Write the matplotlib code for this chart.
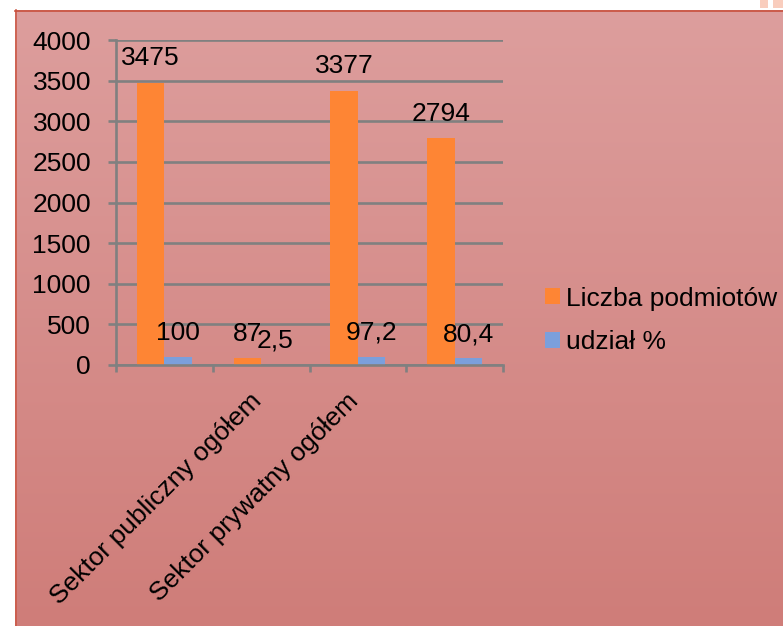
import numpy as np
import matplotlib
matplotlib.use("Agg")
import matplotlib.pyplot as plt
from matplotlib.patches import Rectangle
from matplotlib.transforms import ScaledTranslation

categories = ["", "Sektor publiczny ogółem", "Sektor prywatny ogółem", ""]
liczba = [3475, 87, 3377, 2794]
udzial = [100, 2.5, 97.2, 80.4]
liczba_labels = ["3475", "87", "3377", "2794"]
udzial_labels = ["100", "2,5", "97,2", "80,4"]
series_names = ["Liczba podmiotów", "udział %"]
yticks = [0, 500, 1000, 1500, 2000, 2500, 3000, 3500, 4000]

plt.rcParams['font.family'] = ['Liberation Sans', 'DejaVu Sans']
FS = 19
W, H = 783, 626
fig = plt.figure(figsize=(W / 100, H / 100), dpi=100)
fig.patch.set_facecolor('white')

# gradient background
bg = fig.add_axes([15 / W, 0, 1 - 15 / W, 1 - 10 / H])
bg.set_axis_off()
top = np.array([221, 158, 157]) / 255
bot = np.array([207, 125, 121]) / 255
t = np.linspace(0, 1, 256)[:, None]
grad = top[None, :] * (1 - t) + bot[None, :] * t
bg.imshow(grad[:, None, :], aspect='auto', extent=[0, 1, 0, 1])
bg.set_xlim(0, 1)
bg.set_ylim(0, 1)
# border lines
fig.add_artist(plt.Line2D([15.5 / W, 15.5 / W], [0, 1 - 10 / H], color='#cc5a48', lw=1.2))
fig.add_artist(plt.Line2D([15 / W, 1], [1 - 10.5 / H, 1 - 10.5 / H], color='#c8503c', lw=1.2))
fig.add_artist(Rectangle((760 / W, 1 - 8 / H), 8 / W, 8 / H, transform=fig.transFigure, color='#f9cdbd', lw=0))
fig.add_artist(Rectangle((773 / W, 1 - 8 / H), 10 / W, 8 / H, transform=fig.transFigure, color='#f9cdbd', lw=0))

ax = fig.add_axes([116 / W, 1 - 365 / H, (503 - 116) / W, (365 - 40) / H])
ax.set_facecolor('none')
x = np.arange(len(categories))
bw = 0.284
ob = ax.bar(x - bw / 2, liczba, bw, color='#fe8534', zorder=3, label=series_names[0])
bb = ax.bar(x + bw / 2, udzial, bw, color='#7b9fdc', zorder=3, label=series_names[1])

for xi, v, s in zip(x - bw / 2, liczba, liczba_labels):
    ax.annotate(s, (xi, v), xytext=(0, 12.5), textcoords='offset points',
                ha='center', va='baseline', fontsize=FS, color='black', zorder=5)
for xi, v, s in zip(x + bw / 2, udzial, udzial_labels):
    ax.annotate(s, (xi, v), xytext=(0, 12.5), textcoords='offset points',
                ha='center', va='baseline', fontsize=FS, color='black', zorder=5)

ax.set_xlim(-0.5, len(categories) - 0.5)
ax.set_ylim(0, 4000)
ax.set_yticks(yticks)
ax.set_yticklabels([str(v) for v in yticks], fontsize=FS)
ax.grid(axis='y', color='#808080', lw=1.9, zorder=1)
ax.set_axisbelow(True)

gray = '#808080'
for s in ['top', 'right']:
    ax.spines[s].set_visible(False)
for s in ['left', 'bottom']:
    ax.spines[s].set_color(gray)
    ax.spines[s].set_linewidth(1.9)
    ax.spines[s].set_zorder(4)
ax.tick_params(axis='y', length=6, width=1.9, color=gray, pad=12)

ax.set_xticks(x)
ax.set_xticklabels(categories, fontsize=FS, rotation=45, ha='right', va='top',
                   rotation_mode='anchor')
ax.tick_params(axis='x', which='major', length=0, pad=21)
off = ScaledTranslation(-0.12, 0.05, fig.dpi_scale_trans)
for lab in ax.get_xticklabels():
    lab.set_transform(lab.get_transform() + off)
ax.set_xticks(np.arange(len(categories) + 1) - 0.5, minor=True)
ax.tick_params(axis='x', which='minor', length=5, width=1.9, color=gray)

leg = fig.legend(handles=[ob, bb], labels=series_names, loc='center left',
                 bbox_to_anchor=(545 / W, 1 - 320.5 / H), frameon=False,
                 fontsize=FS, handlelength=0.55, handleheight=0.55,
                 handletextpad=0.25, labelspacing=0.75, borderpad=0, borderaxespad=0)

fig.savefig('out.png', dpi=100)
